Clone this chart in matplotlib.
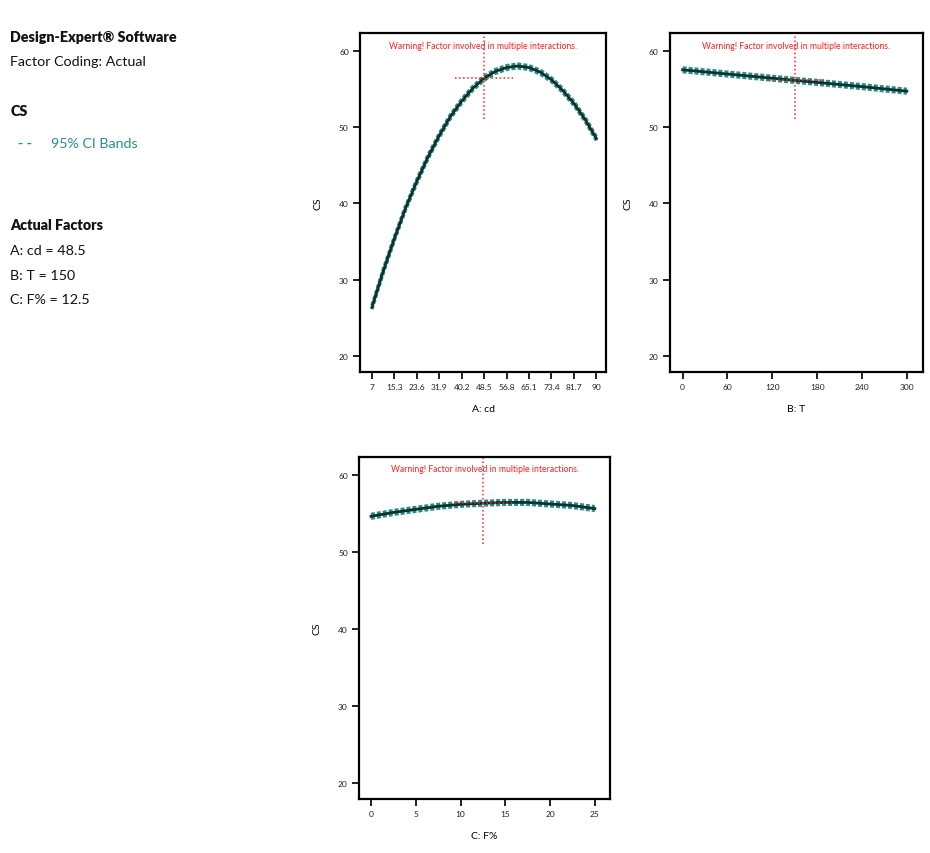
import numpy as np
import matplotlib.pyplot as plt

# data
a_x = [7, 11.15, 15.3, 19.45, 23.6, 27.75, 31.9, 36.05, 40.2, 44.35, 48.5,
       52.65, 56.8, 60.95, 65.1, 69.25, 73.4, 77.55, 81.7, 85.85, 90]
a_cs = [26.4, 31.1, 35.4, 39.4, 42.9, 46.1, 48.9, 51.4, 53.4, 55.1, 56.4,
        57.3, 57.8, 58.0, 57.8, 57.2, 56.2, 54.8, 53.1, 51.0, 48.5]
a_ticks = [7, 15.3, 23.6, 31.9, 40.2, 48.5, 56.8, 65.1, 73.4, 81.7, 90]

b_x = [0, 60, 120, 180, 240, 300]
b_cs = [57.5, 56.95, 56.4, 55.85, 55.3, 54.7]
b_ticks = [0, 60, 120, 180, 240, 300]

c_x = [0, 2.5, 5, 7.5, 10, 12.5, 15, 17.5, 20, 22.5, 25]
c_cs = [54.6, 55.1, 55.5, 55.9, 56.15, 56.3, 56.4, 56.4, 56.2, 56.0, 55.6]
c_ticks = [0, 5, 10, 15, 20, 25]

y_ticks = [20, 30, 40, 50, 60]
ci_half = 0.25

teal = '#2a8f86'
red = '#ff2020'

fig = plt.figure(figsize=(9.3, 8.54), dpi=100)
plt.rcParams['font.family'] = ['Lato', 'DejaVu Sans']


def panel(rect, x, y, ticks, xlim, xlabel, cx):
    ax = fig.add_axes(rect)
    x = np.array(x)
    y = np.array(y)
    ax.plot(x, y + ci_half, color=teal, lw=2.4, ls=(0, (1.2, 0.6)))
    ax.plot(x, y - ci_half, color=teal, lw=2.4, ls=(0, (1.2, 0.6)))
    ax.plot(x, y, color='#10302e', lw=2.0)
    ax.set_xlim(*xlim)
    ax.set_ylim(17.9, 62.3)
    ax.set_xticks(ticks)
    ax.set_xticklabels([f'{t:g}' for t in ticks])
    ax.set_yticks(y_ticks)
    ax.tick_params(direction='out', length=5, width=1.4, labelsize=6,
                   pad=3, colors='#222222')
    for s in ax.spines.values():
        s.set_linewidth(1.6)
    ax.set_ylabel('CS', fontsize=7.5, labelpad=12)
    ax.set_xlabel(xlabel, fontsize=7.5, labelpad=10)
    # crosshair at the current factor setting
    cy = np.interp(cx, x, y)
    half = 0.13 * (ticks[-1] - ticks[0])
    ax.plot([cx - half, cx + half], [cy, cy], color=red, lw=1.1, ls=':')
    ax.plot([cx, cx], [51.0, 62.3], color=red, lw=1.1, ls=':')
    ax.text(0.5, 0.965, 'Warning! Factor involved in multiple interactions.',
            transform=ax.transAxes, ha='center', va='center',
            fontsize=6.2, color=red)
    return ax


panel([0.387, 0.563, 0.265, 0.397], a_x, a_cs, a_ticks, (2.55, 93.7),
      'A: cd', 48.5)
panel([0.720, 0.563, 0.272, 0.397], b_x, b_cs, b_ticks, (-17.4, 321),
      'B: T', 150)
panel([0.386, 0.0633, 0.270, 0.4004], c_x, c_cs, c_ticks, (-1.34, 26.7),
      'C: F%', 12.5)

# left info panel
def info(y, s, **kw):
    fig.text(10.5 / 930, 1 - y / 854, s, va='center', ha='left',
             fontsize=10.3, color='#111111', **kw)

info(37, 'Design-Expert® Software', weight='heavy')
info(62, 'Factor Coding: Actual')
info(111, 'CS', weight='heavy')
fig.text(18 / 930, 1 - 144 / 854, '- -', va='center', ha='left',
         fontsize=10.3, color=teal, weight='bold')
fig.text(50.5 / 930, 1 - 144 / 854, '95% CI Bands', va='center', ha='left',
         fontsize=10.3, color=teal)
info(226, 'Actual Factors', weight='heavy')
info(251, 'A: cd = 48.5')
info(276, 'B: T = 150')
info(300, 'C: F% = 12.5')

fig.savefig('out.png', dpi=100)
